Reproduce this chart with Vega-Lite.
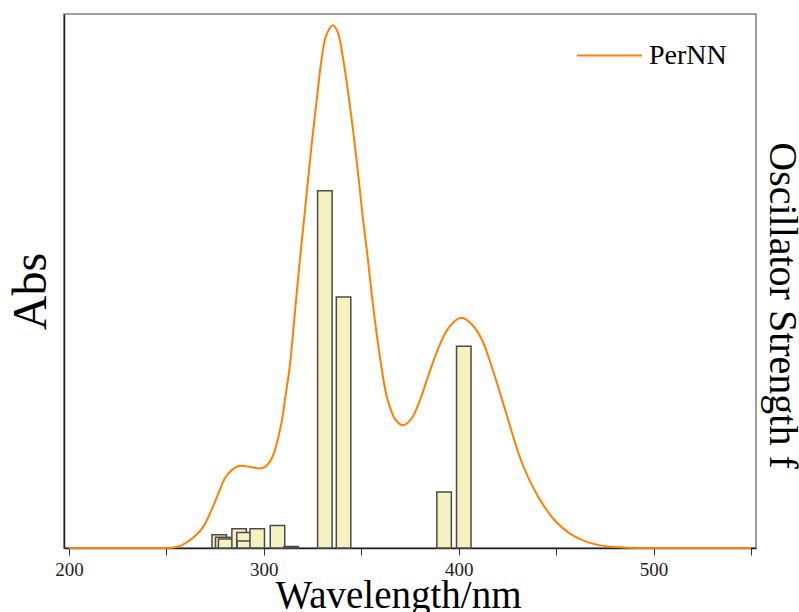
{
  "$schema": "https://vega.github.io/schema/vega-lite/v6.json",
  "width": 692,
  "height": 534,
  "autosize": "none",
  "padding": {"left": 64, "top": 14, "right": 43, "bottom": 64},
  "background": "white",
  "config": {
    "view": {"stroke": "#808080", "strokeWidth": 1.5},
    "axis": {"grid": false}
  },
  "datasets": {
    "spectrum": [
      {"wavelength": 200, "abs": 0, "series": "PerNN"},
      {"wavelength": 243.5, "abs": 0, "series": "PerNN"},
      {"wavelength": 253.6, "abs": 0.001, "series": "PerNN"},
      {"wavelength": 257.2, "abs": 0.004, "series": "PerNN"},
      {"wavelength": 263.7, "abs": 0.019, "series": "PerNN"},
      {"wavelength": 268.8, "abs": 0.039, "series": "PerNN"},
      {"wavelength": 273.8, "abs": 0.077, "series": "PerNN"},
      {"wavelength": 277.4, "abs": 0.109, "series": "PerNN"},
      {"wavelength": 280.4, "abs": 0.133, "series": "PerNN"},
      {"wavelength": 285.0, "abs": 0.150, "series": "PerNN"},
      {"wavelength": 288.0, "abs": 0.154, "series": "PerNN"},
      {"wavelength": 292.6, "abs": 0.152, "series": "PerNN"},
      {"wavelength": 297.6, "abs": 0.149, "series": "PerNN"},
      {"wavelength": 300.7, "abs": 0.152, "series": "PerNN"},
      {"wavelength": 304.2, "abs": 0.169, "series": "PerNN"},
      {"wavelength": 306.7, "abs": 0.197, "series": "PerNN"},
      {"wavelength": 309.3, "abs": 0.240, "series": "PerNN"},
      {"wavelength": 310.8, "abs": 0.277, "series": "PerNN"},
      {"wavelength": 313.3, "abs": 0.340, "series": "PerNN"},
      {"wavelength": 315.8, "abs": 0.436, "series": "PerNN"},
      {"wavelength": 318.4, "abs": 0.536, "series": "PerNN"},
      {"wavelength": 320.9, "abs": 0.625, "series": "PerNN"},
      {"wavelength": 324.4, "abs": 0.751, "series": "PerNN"},
      {"wavelength": 327.0, "abs": 0.835, "series": "PerNN"},
      {"wavelength": 329.5, "abs": 0.912, "series": "PerNN"},
      {"wavelength": 332.0, "abs": 0.960, "series": "PerNN"},
      {"wavelength": 335.4, "abs": 0.979, "series": "PerNN"},
      {"wavelength": 337.9, "abs": 0.966, "series": "PerNN"},
      {"wavelength": 341.1, "abs": 0.906, "series": "PerNN"},
      {"wavelength": 344.7, "abs": 0.813, "series": "PerNN"},
      {"wavelength": 348.0, "abs": 0.713, "series": "PerNN"},
      {"wavelength": 350.6, "abs": 0.625, "series": "PerNN"},
      {"wavelength": 353.1, "abs": 0.550, "series": "PerNN"},
      {"wavelength": 356.3, "abs": 0.446, "series": "PerNN"},
      {"wavelength": 359.8, "abs": 0.352, "series": "PerNN"},
      {"wavelength": 363.2, "abs": 0.282, "series": "PerNN"},
      {"wavelength": 367.4, "abs": 0.241, "series": "PerNN"},
      {"wavelength": 371.5, "abs": 0.230, "series": "PerNN"},
      {"wavelength": 375.9, "abs": 0.243, "series": "PerNN"},
      {"wavelength": 380.1, "abs": 0.277, "series": "PerNN"},
      {"wavelength": 385.1, "abs": 0.330, "series": "PerNN"},
      {"wavelength": 390.2, "abs": 0.380, "series": "PerNN"},
      {"wavelength": 395.2, "abs": 0.414, "series": "PerNN"},
      {"wavelength": 401.2, "abs": 0.431, "series": "PerNN"},
      {"wavelength": 406.9, "abs": 0.418, "series": "PerNN"},
      {"wavelength": 411.9, "abs": 0.390, "series": "PerNN"},
      {"wavelength": 417.0, "abs": 0.339, "series": "PerNN"},
      {"wavelength": 423.9, "abs": 0.258, "series": "PerNN"},
      {"wavelength": 432.2, "abs": 0.162, "series": "PerNN"},
      {"wavelength": 440.8, "abs": 0.096, "series": "PerNN"},
      {"wavelength": 449.2, "abs": 0.052, "series": "PerNN"},
      {"wavelength": 457.5, "abs": 0.026, "series": "PerNN"},
      {"wavelength": 466.1, "abs": 0.011, "series": "PerNN"},
      {"wavelength": 474.5, "abs": 0.004, "series": "PerNN"},
      {"wavelength": 484.6, "abs": 0.001, "series": "PerNN"},
      {"wavelength": 495.0, "abs": 0, "series": "PerNN"},
      {"wavelength": 550, "abs": 0, "series": "PerNN"}
    ],
    "states": [
      {"wavelength": 277.1, "f": 0.025},
      {"wavelength": 278.9, "f": 0.020},
      {"wavelength": 280.4, "f": 0.017},
      {"wavelength": 287.3, "f": 0.036},
      {"wavelength": 289.8, "f": 0.029},
      {"wavelength": 290.0, "f": 0.013},
      {"wavelength": 296.6, "f": 0.036},
      {"wavelength": 307.0, "f": 0.042},
      {"wavelength": 314.0, "f": 0.003},
      {"wavelength": 331.3, "f": 0.669},
      {"wavelength": 340.9, "f": 0.470},
      {"wavelength": 392.5, "f": 0.105},
      {"wavelength": 402.6, "f": 0.378}
    ]
  },
  "layer": [
    {
      "data": {"name": "states"},
      "mark": {"type": "bar", "size": 14.5, "fill": "#F6F2C0", "stroke": "#4a4a4a", "strokeWidth": 1.5},
      "encoding": {
        "x": {
          "field": "wavelength", "type": "quantitative",
          "scale": {"domain": [200, 550], "nice": false, "zero": false},
          "axis": {
            "values": [200, 250, 300, 350, 400, 450, 500, 550],
            "labelExpr": "datum.value % 100 == 0 ? datum.label : ''",
            "tickSize": 7, "tickColor": "#333", "tickWidth": 1,
            "domainColor": "#222", "domainWidth": 1.5,
            "labelFont": "Liberation Serif", "labelFontSize": 19, "labelColor": "#222",
            "labelPadding": 5, "labelFlush": false,
            "title": "Wavelength/nm", "titleFont": "Liberation Serif", "titleFontSize": 39,
            "titleFontWeight": "normal", "titleColor": "#000",
            "titleBaseline": "alphabetic", "titleAlign": "center", "titleX": 334, "titleY": 59
          }
        },
        "y": {
          "field": "f", "type": "quantitative",
          "scale": {"domain": [0, 1], "nice": false},
          "axis": {
            "orient": "right", "domain": false, "ticks": false, "labels": false,
            "title": "Oscillator Strength f", "titleFont": "Liberation Serif", "titleFontSize": 40,
            "titleFontWeight": "normal", "titleColor": "#000", "titleAngle": 90,
            "titleBaseline": "alphabetic", "titleAlign": "center", "titleX": 13, "titleY": 291
          }
        }
      }
    },
    {
      "data": {"name": "spectrum"},
      "mark": {"type": "line", "interpolate": "catmull-rom", "strokeWidth": 2},
      "encoding": {
        "x": {"field": "wavelength", "type": "quantitative", "scale": {"domain": [200, 550], "nice": false, "zero": false}},
        "y": {
          "field": "abs", "type": "quantitative",
          "scale": {"domain": [0, 1], "nice": false},
          "axis": {
            "orient": "left", "domain": true, "domainColor": "#222", "domainWidth": 1.5,
            "ticks": false, "labels": false,
            "title": "Abs", "titleFont": "Liberation Serif", "titleFontSize": 48,
            "titleFontWeight": "normal", "titleColor": "#000", "titleAngle": -90,
            "titleBaseline": "alphabetic", "titleAlign": "center", "titleX": -19, "titleY": 277
          }
        },
        "color": {
          "field": "series", "type": "nominal",
          "scale": {"range": ["#FF8000"]},
          "legend": {
            "orient": "none", "legendX": 512, "legendY": 8, "title": null, "padding": 0,
            "symbolType": "stroke", "symbolSize": 4225, "symbolStrokeWidth": 2,
            "labelFont": "Liberation Serif", "labelFontSize": 28, "labelColor": "#000",
            "labelOffset": 6
          }
        }
      }
    }
  ],
  "resolve": {"scale": {"y": "independent"}}
}
